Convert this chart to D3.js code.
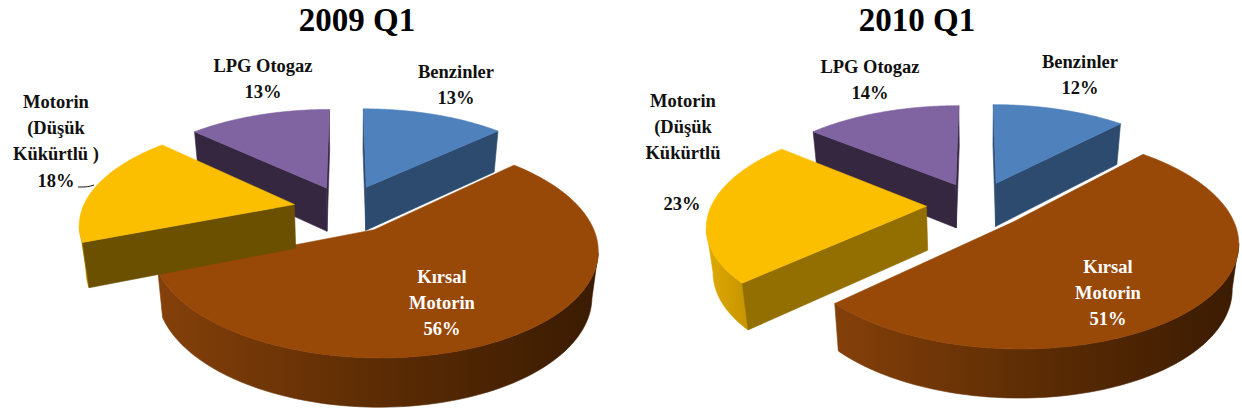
<!DOCTYPE html>
<html><head><meta charset="utf-8">
<script src="https://cdn.jsdelivr.net/npm/d3@7"></script>
<style>html,body{margin:0;padding:0;background:#fff}svg{display:block}
text{font-family:"Liberation Serif",serif;font-weight:bold;text-anchor:middle}</style></head>
<body><svg id="c" width="1242" height="414"></svg>
<script>
const categories = ["Benzinler","Kırsal Motorin","Motorin (Düşük Kükürtlü)","LPG Otogaz"];
const values2009 = [13,56,18,13];
const values2010 = [12,51,23,14];
const explode2009 = [0.25,0.24,0.25,0.24];
const explode2010 = [0.25,0.23,0.235,0.24];
const topColors = ["#4f81bd","#984807","#fcbf00","#8064a2"];
const wallColors2009 = ["#2d4b6f","#5a2a03","#6b5000","#362740"];
const wallColors2010 = ["#2d4b6f","#5a2a03","#926f00","#362740"];
const rimStops = ["#84400a","#5c2c04","#3a1b02"];
const yellowRim = ["#e0aa00","#c99800"];
const labels2009 = [
  {lines:["Benzinler","13%"],x:456,y:78},
  {lines:["Kırsal","Motorin","56%"],x:442,y:283,fill:"#fff"},
  {lines:["Motorin","(Düşük","Kükürtlü )","18%"],x:56,y:108},
  {lines:["LPG Otogaz","13%"],x:263,y:72}];
const labels2010 = [
  {lines:["Benzinler","12%"],x:1080,y:68},
  {lines:["Kırsal","Motorin","51%"],x:1108,y:273,fill:"#fff"},
  {lines:["Motorin","(Düşük","Kükürtlü"],x:683,y:107},
  {lines:["23%"],x:682,y:210},
  {lines:["LPG Otogaz","14%"],x:870,y:73}];

const svg = d3.select("#c");
const defs = svg.append("defs");
const lineGen = d3.line();
const pie = d3.pie().sort(null).startAngle(0).endAngle(2*Math.PI);

function gradient(id,x0,x1,stops){
  const gr = defs.append("linearGradient").attr("id",id).attr("gradientUnits","userSpaceOnUse")
    .attr("x1",x0).attr("x2",x1).attr("y1",0).attr("y2",0);
  const off = d3.scaleLinear().domain([0,stops.length-1]).range([0,1]);
  stops.forEach((c,i)=>gr.append("stop").attr("offset",off(i)).attr("stop-color",c));
  return `url(#${id})`;
}

function drawPie(cfg){
  const {id,cx,cy,rx,ry,k,h,m,values,explode,walls,labels,title,titleX} = cfg;
  const project = (u,v,z) => {
    const p = 1/(1-k*v);
    let x = cx + rx*u*p;
    const y = cy + ry*v*p + z*Math.sqrt(p);
    if (z>0) x = cx + (x-cx)*(1-m);
    return [x,y];
  };
  const g = svg.append("g");
  const arcs = pie(values);
  [0,3,1,2].forEach(i => {
    const a = arcs[i], e = explode[i];
    const mid = (a.startAngle+a.endAngle)/2;
    const au = e*Math.sin(mid), av = -e*Math.cos(mid);
    const n = 120;
    const thetas = d3.range(n+1).map(j => a.startAngle + (a.endAngle-a.startAngle)*j/n);
    const world = thetas.map(t => [au+Math.sin(t), av-Math.cos(t)]);
    const top = world.map(w => project(w[0],w[1],0));
    const bot = world.map(w => project(w[0],w[1],h));
    const apexT = project(au,av,0), apexB = project(au,av,h);
    const sl = g.append("g");
    const poly = (pts,fill) => sl.append("path").attr("d",lineGen(pts)+"Z").attr("fill",fill).attr("stroke",fill).attr("stroke-width",0.6);
    // curved rim: the front-facing run of the arc, as one polygon
    const front = d3.range(n).filter(j => top[j+1][0] < top[j][0]);
    if (front.length){
      const j0 = front[0], j1 = front[front.length-1]+1;
      const t = top.slice(j0,j1+1), b = bot.slice(j0,j1+1).reverse();
      const xs = d3.extent(t, d=>d[0]);
      const fill = i===1 ? gradient(id+"rim1",xs[0],xs[1],rimStops)
                 : i===2 ? gradient(id+"rim2",xs[0],xs[1],yellowRim) : walls[i];
      poly([...t,...b],fill);
    }
    // radial walls, when they face the viewer
    if (top[0][0] < apexT[0]) poly([apexT,top[0],bot[0],apexB],walls[i]);
    if (top[n][0] > apexT[0]) poly([top[n],apexT,apexB,bot[n]],walls[i]);
    poly([apexT,...top],topColors[i]);
  });
  g.append("text").attr("x",titleX).attr("y",31).attr("font-size",33).attr("fill","#000").text(title);
  labels.forEach(l => {
    l.lines.forEach((s,j) => {
      g.append("text").attr("x",l.x).attr("y",l.y+j*26.2).attr("font-size",18.5)
        .attr("fill",l.fill||"#111").text(s);
    });
  });
}
drawPie({id:"a",cx:346,cy:209,rx:212,ry:98.5,k:0.17,h:44,m:0.025,values:values2009,explode:explode2009,walls:wallColors2009,
  labels:labels2009,title:"2009 Q1",titleX:357});
drawPie({id:"b",cx:977,cy:205.5,rx:215,ry:99,k:0.17,h:44,m:0.025,values:values2010,explode:explode2010,walls:wallColors2010,
  labels:labels2010,title:"2010 Q1",titleX:917});
// leader line of the 18% label
const leader = d3.line().curve(d3.curveBasis);
svg.append("path").attr("d",leader([[78,187],[88,187],[94,185]])).attr("fill","none").attr("stroke","#111").attr("stroke-width",1);
</script></body></html>
